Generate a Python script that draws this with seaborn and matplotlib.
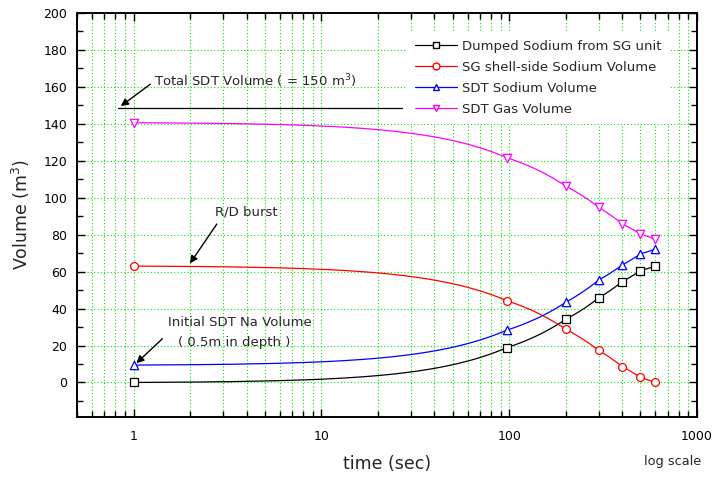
import matplotlib
matplotlib.use("Agg")
import matplotlib.pyplot as plt
import numpy as np
import seaborn as sns
from matplotlib.lines import Line2D
from matplotlib.patches import PathPatch
from matplotlib.path import Path
from matplotlib.ticker import FixedLocator, LogLocator, MultipleLocator, NullFormatter

# values
time_sec = [1, 97, 200, 300, 400, 500, 600]
dumped_sodium = [0.0, 18.8, 34.2, 45.8, 54.6, 60.5, 63.0]
shell_side_sodium = [63.0, 44.3, 28.8, 17.3, 8.6, 2.7, 0.0]
sdt_sodium = [9.4, 28.3, 43.4, 55.5, 63.6, 69.6, 72.2]
sdt_gas = [140.6, 121.7, 106.3, 94.8, 85.8, 80.4, 77.5]

series_names = [
    "Dumped Sodium from SG unit",
    "SG shell-side Sodium Volume",
    "SDT Sodium Volume",
    "SDT Gas Volume",
]
series_values = [dumped_sodium, shell_side_sodium, sdt_sodium, sdt_gas]
series_colors = ["black", "red", "blue", "magenta"]
series_markers = ["s", "o", "^", "v"]
marker_sizes = [28, 32, 36, 36]

x_ticks = [1, 10, 100, 1000]
x_tick_labels = ["1", "10", "100", "1000"]
y_ticks = list(range(0, 201, 20))

# total SDT volume reference line (drawn just below the 150 m3 mark, as in the source)
total_line_x = [0.83, 27]
total_line_level = 148.6

# annotation anchors: (tip x, tip y), (tail x, tail y), text position
total_tip, total_tail, total_text = (0.832, 148.7), (1.26, 162.3), (1.28, 163.3)
burst_tip, burst_tail, burst_text = (1.96, 63.2), (2.83, 87.0), (2.70, 92.4)
init_tip, init_tail = (1.01, 9.4), (1.46, 24.7)
init_text1, init_text2 = (1.535, 32.3), (1.735, 21.5)


def main():
    sns.set_style("ticks")
    plt.rcParams["font.family"] = ["DejaVu Sans"]
    plt.rcParams["mathtext.fontset"] = "dejavusans"

    W, H = 717, 483
    fig = plt.figure(figsize=(W / 100, H / 100), dpi=100)
    ax = fig.add_axes([77 / W, 1 - 417 / H, 620 / W, 404 / H])
    ax.set_xscale("log")

    for name, values, color, marker, size in zip(
        series_names, series_values, series_colors, series_markers, marker_sizes
    ):
        # the source joins points with straight segments in linear time,
        # which bend on the log axis; Path.interpolated reproduces that
        path = Path(np.column_stack([time_sec, values])).interpolated(80)
        ax.add_patch(PathPatch(path, fill=False, edgecolor=color, lw=0.9, zorder=3))
        sns.scatterplot(
            x=time_sec, y=values, marker=marker, s=size, color=color,
            facecolor="white", edgecolor=color, linewidth=0.9,
            zorder=4, legend=False, ax=ax,
        )

    ax.plot(total_line_x, [total_line_level] * 2, color="black", lw=0.9, zorder=2)

    ax.set_xlim(0.5, 1000)
    ax.set_ylim(-18.7, 200)

    ax.xaxis.set_major_locator(FixedLocator(x_ticks))
    ax.set_xticklabels(x_tick_labels)
    ax.xaxis.set_minor_locator(LogLocator(base=10, subs=np.arange(2, 10), numticks=20))
    ax.xaxis.set_minor_formatter(NullFormatter())
    ax.set_yticks(y_ticks)
    ax.yaxis.set_minor_locator(MultipleLocator(10))

    ax.tick_params(which="both", direction="in", top=True, right=True, width=1.0,
                   labelsize=9, colors="black")
    ax.tick_params(which="major", length=6)
    ax.tick_params(which="minor", length=4)
    ax.tick_params(axis="y", pad=7)
    ax.tick_params(axis="x", pad=9)
    for sp in ax.spines.values():
        sp.set_linewidth(1.4)
        sp.set_color("black")

    grid_kw = dict(color="#00e600", linestyle=(0, (1, 2)), linewidth=0.8)
    ax.grid(True, which="both", axis="x", **grid_kw)
    ax.grid(True, which="major", axis="y", **grid_kw)
    ax.set_axisbelow(True)

    ax.set_xlabel("time (sec)", fontsize=12.5, labelpad=9)
    ax.set_ylabel("Volume (m$^3$)", fontsize=12.5, labelpad=8)
    fig.text(673 / W, 1 - 462 / H, "log scale", ha="center", va="center", fontsize=9.3)

    arrow_kw = dict(arrowstyle="-|>", color="black", lw=1.0, mutation_scale=11)
    ax.annotate("", xy=total_tip, xytext=total_tail, arrowprops=arrow_kw, zorder=5)
    ax.text(*total_text, "Total SDT Volume ( = 150 m$^3$)", fontsize=9.5, va="center")
    ax.annotate("", xy=burst_tip, xytext=burst_tail, arrowprops=arrow_kw, zorder=5)
    ax.text(*burst_text, "R/D burst", fontsize=9.5, va="center")
    ax.annotate("", xy=init_tip, xytext=init_tail, arrowprops=arrow_kw, zorder=5)
    ax.text(*init_text1, "Initial SDT Na Volume", fontsize=9.5, va="center")
    ax.text(*init_text2, "( 0.5m in depth )", fontsize=9.5, va="center")

    handles = [
        Line2D([0], [0], color=c, lw=0.9, marker=m, markersize=5,
               markerfacecolor="white", markeredgecolor=c)
        for c, m in zip(series_colors, series_markers)
    ]
    leg = ax.legend(
        handles, series_names, loc="upper left",
        bbox_to_anchor=(407 / W, 1 - 32 / H), bbox_transform=fig.transFigure,
        frameon=True, fancybox=False, framealpha=1, facecolor="white",
        edgecolor="none", fontsize=9.5, handlelength=3.2, handletextpad=0.35,
        labelspacing=0.6, borderpad=0.6, borderaxespad=0,
    )
    leg.set_zorder(6)

    fig.savefig("out.png", dpi=100)


if __name__ == "__main__":
    main()
